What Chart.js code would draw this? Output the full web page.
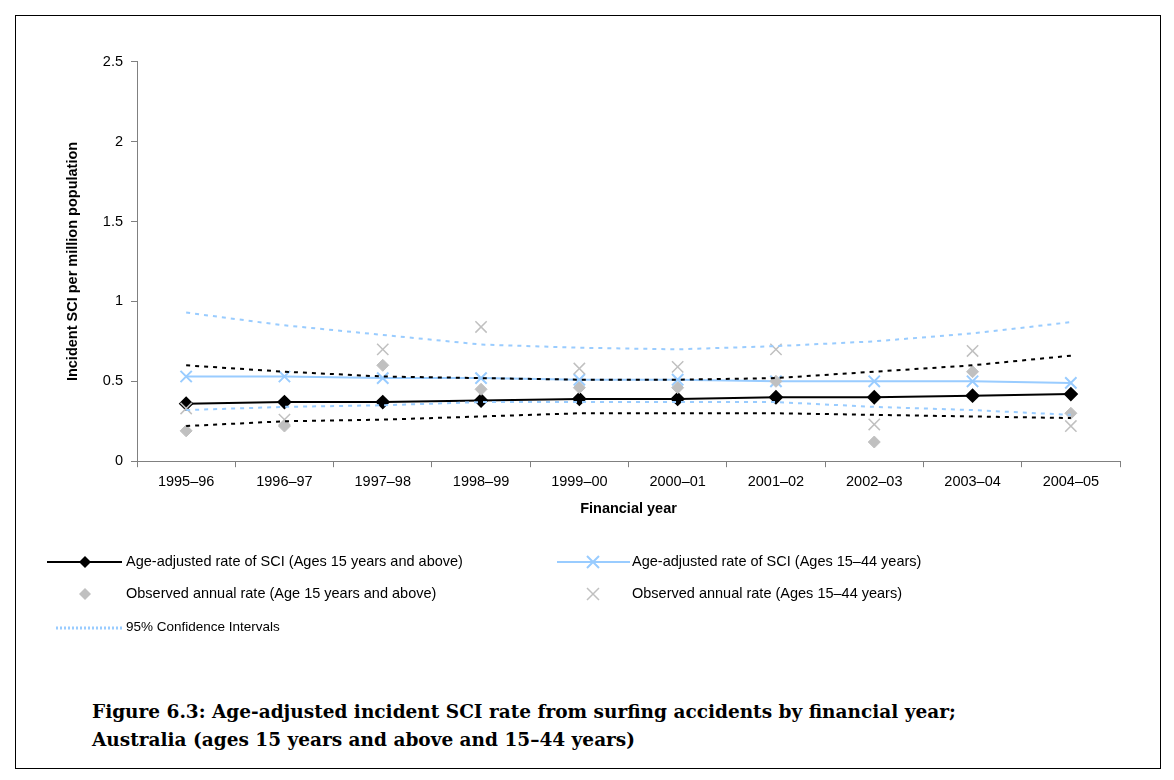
<!DOCTYPE html>
<html><head><meta charset="utf-8">
<script src="https://cdn.jsdelivr.net/npm/chart.js@4"></script>
<style>
body{margin:0;background:#fff;font-family:"Liberation Sans",Arial,sans-serif;}
#frame{position:absolute;left:15px;top:15px;width:1144px;height:752px;border:1px solid #000;}
#wrap{position:absolute;left:60px;top:45px;width:1070px;height:477px;}
.lg{position:absolute;font-size:14.5px;color:#000;}
#cap{position:absolute;left:92px;top:698px;font-family:"DejaVu Serif",serif;font-weight:bold;font-size:18.5px;line-height:28px;}
</style></head><body>
<div id="frame"></div>
<div id="wrap"><canvas id="c"></canvas></div>
<canvas id="lg" width="1174" height="160" style="position:absolute;left:0;top:530px"></canvas>
<div class="lg" style="left:126px;top:553px">Age-adjusted rate of SCI (Ages 15 years and above)</div>
<div class="lg" style="left:632px;top:553px">Age-adjusted rate of SCI (Ages 15–44 years)</div>
<div class="lg" style="left:126px;top:585px">Observed annual rate (Age 15 years and above)</div>
<div class="lg" style="left:632px;top:585px">Observed annual rate (Ages 15–44 years)</div>
<div class="lg" style="left:126px;top:619px;font-size:13.5px">95% Confidence Intervals</div>
<div id="cap">Figure 6.3: Age-adjusted incident SCI rate from surfing accidents by financial year;<br>Australia (ages 15 years and above and 15–44 years)</div>
<script>
const years = ['1995–96','1996–97','1997–98','1998–99','1999–00','2000–01','2001–02','2002–03','2003–04','2004–05'];
const rate15plus = [0.36,0.37,0.37,0.38,0.39,0.39,0.40,0.40,0.41,0.42];
const rate1544 = [0.53,0.53,0.52,0.52,0.51,0.51,0.50,0.50,0.50,0.49];
const obs15plus = [0.19,0.22,0.60,0.45,0.46,0.46,0.50,0.12,0.56,0.30];
const obs1544 = [0.33,0.26,0.70,0.84,0.58,0.59,0.70,0.23,0.69,0.22];
const ci1544Upper = [0.93,0.85,0.79,0.73,0.71,0.70,0.72,0.75,0.80,0.87];
const ci1544Lower = [0.32,0.34,0.35,0.37,0.37,0.37,0.37,0.34,0.32,0.29];
const ci15Upper = [0.60,0.56,0.53,0.52,0.51,0.51,0.52,0.56,0.60,0.66];
const ci15Lower = [0.22,0.25,0.26,0.28,0.30,0.30,0.30,0.29,0.28,0.27];

const blue = '#99ccff', grey = '#c0c0c0';
const ci = (d, col) => ({data: d, borderColor: col, borderWidth: 2, borderDash: [4,5], pointRadius: 0, fill: false});
new Chart(document.getElementById('c'), {
  type: 'line',
  data: {
    labels: years,
    datasets: [
      ci(ci1544Upper, blue), ci(ci1544Lower, blue), ci(ci15Upper, '#000'), ci(ci15Lower, '#000'),
      {data: obs15plus, showLine: false, pointStyle: 'rectRot', pointRadius: 6, pointBackgroundColor: grey, pointBorderColor: grey},
      {data: obs1544, showLine: false, pointStyle: 'cross', rotation: 45, pointRadius: 8, pointBorderWidth: 1.5, pointBorderColor: grey},
      {data: rate1544, borderColor: blue, borderWidth: 2, pointStyle: 'cross', rotation: 45, pointRadius: 8, pointBorderWidth: 2, pointBorderColor: blue},
      {data: rate15plus, borderColor: '#000', borderWidth: 2, pointStyle: 'rectRot', pointRadius: 6, pointBackgroundColor: '#000', pointBorderColor: '#000'}
    ]
  },
  options: {
    responsive: true, maintainAspectRatio: false, animation: false,
    plugins: {legend: {display: false}, tooltip: {enabled: false}},
    scales: {
      x: {offset: true, grid: {drawOnChartArea: false, offset: true, color: '#808080', tickLength: 6}, border: {color: '#808080'},
          ticks: {color: '#000', font: {size: 14.5, family: 'Liberation Sans'}, padding: 6},
          title: {display: true, text: 'Financial year', color: '#000', font: {size: 14.5, weight: 'bold', family: 'Liberation Sans'}}},
      y: {min: 0, max: 2.5, grid: {drawOnChartArea: false, color: '#808080', tickLength: 6}, border: {color: '#808080'},
          afterFit: s => { s.width = 77; },
          ticks: {stepSize: 0.5, callback: v => String(v), color: '#000', font: {size: 14.5, family: 'Liberation Sans'}, padding: 8},
          title: {display: true, text: 'Incident SCI per million population', color: '#000', font: {size: 14.5, weight: 'bold', family: 'Liberation Sans'}, padding: {bottom: 10}}}
    }
  }
});

// legend swatches
const g = document.getElementById('lg').getContext('2d');
function diamond(x, y, r, c){g.fillStyle=c;g.beginPath();g.moveTo(x,y-r);g.lineTo(x+r,y);g.lineTo(x,y+r);g.lineTo(x-r,y);g.fill();}
function xmark(x, y, r, c, w){g.strokeStyle=c;g.lineWidth=w;g.beginPath();g.moveTo(x-r,y-r);g.lineTo(x+r,y+r);g.moveTo(x+r,y-r);g.lineTo(x-r,y+r);g.stroke();}
g.lineWidth=2;g.strokeStyle='#000';g.beginPath();g.moveTo(47,32);g.lineTo(122,32);g.stroke();diamond(85,32,6,'#000');
g.strokeStyle=blue;g.beginPath();g.moveTo(557,32);g.lineTo(630,32);g.stroke();xmark(593,32,6,blue,2);
diamond(85,64,6,grey);xmark(593,64,6,grey,1.5);
g.strokeStyle=blue;g.lineWidth=3;g.setLineDash([2,2]);g.beginPath();g.moveTo(56,98);g.lineTo(122,98);g.stroke();
</script>
</body></html>
